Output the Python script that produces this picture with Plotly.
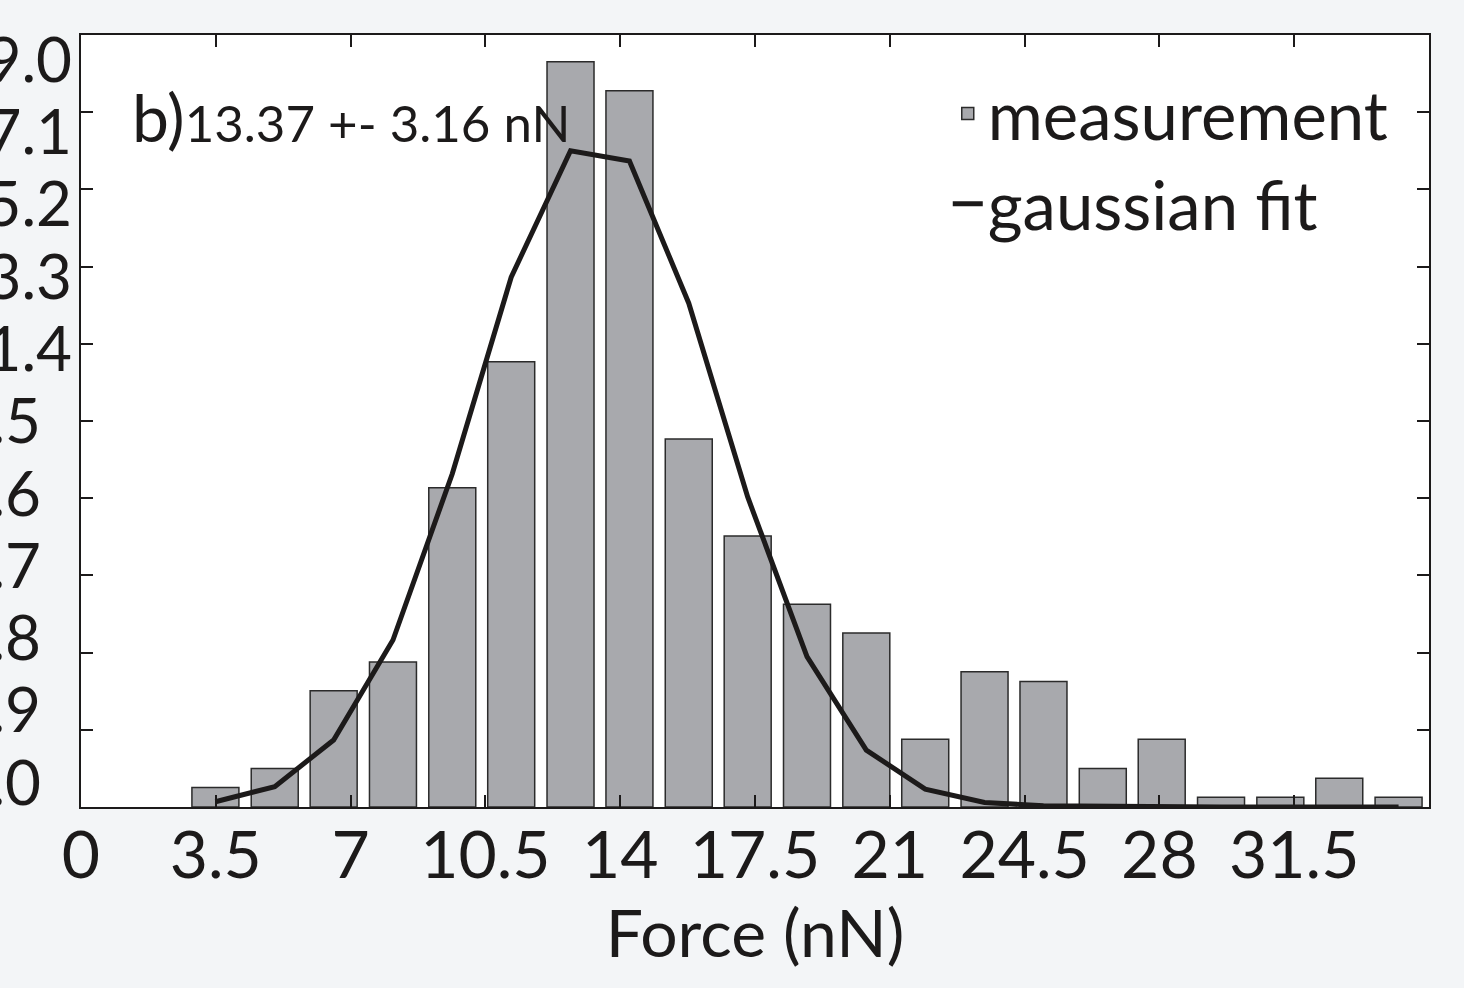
import plotly.graph_objects as go

# ---- data ----
force_centers = [3.49, 5.03, 6.56, 8.10, 9.64, 11.17, 12.71, 14.24, 15.78, 17.31,
                 18.85, 20.39, 21.92, 23.46, 24.99, 26.53, 28.06, 29.60, 31.14, 32.67, 34.21]
measurement = [0.48, 0.95, 2.86, 3.57, 7.86, 10.96, 18.34, 17.63, 9.06, 6.67,
               4.99, 4.28, 1.67, 3.33, 3.09, 0.95, 1.67, 0.24, 0.24, 0.71, 0.24]
gauss_fit = [0.13, 0.50, 1.65, 4.11, 8.20, 13.04, 16.15, 15.90, 12.40, 7.63,
             3.70, 1.40, 0.44, 0.11, 0.03, 0.01, 0.0, 0.0, 0.0, 0.0, 0.0]
x_ticks = [0, 3.5, 7, 10.5, 14, 17.5, 21, 24.5, 28, 31.5]
y_ticks = [0.0, 1.9, 3.8, 5.7, 7.6, 9.5, 11.4, 13.3, 15.2, 17.1, 19.0]
annotation_text = "13.37 +- 3.16 nN"

FONT = "Lato, 'Open Sans', sans-serif"
INK = "#1c1a1a"
EN_SPACE = "\u2002"  # keeps the y labels left-aligned as in the original

def y_label(v):
    s = "%.1f" % v
    return s + EN_SPACE * (4 - len(s))

fig = go.Figure()
fig.add_trace(go.Bar(
    x=force_centers, y=measurement, name="measurement", width=1.22,
    marker=dict(color="#a8a9ad", line=dict(color="#2b2b2b", width=1.5)),
))
fig.add_trace(go.Scatter(
    x=force_centers, y=gauss_fit, name="gaussian fit", mode="lines",
    line=dict(color=INK, width=5),
))
# empty trace so the label axis (y2) is drawn
fig.add_trace(go.Scatter(x=[], y=[], yaxis="y2", showlegend=False, hoverinfo="skip"))

axis_common = dict(
    showline=True, linecolor=INK, linewidth=2, mirror="ticks",
    ticks="inside", ticklen=12, tickwidth=1.5, tickcolor=INK,
    showgrid=False, zeroline=False, automargin=False,
    ticklabeloverflow="allow",
    tickfont=dict(family=FONT, size=66, color=INK),
)

fig.update_xaxes(range=[0, 35], tickvals=x_ticks,
                 ticktext=[("%g" % v) for v in x_ticks],
                 ticklabelstandoff=-10,
                 title=dict(text="Force (nN)", font=dict(family=FONT, size=66, color=INK),
                            standoff=2),
                 **axis_common)
# main y axis: frame and tick marks
fig.update_layout(yaxis=dict(range=[0, 19], tickvals=y_ticks, showticklabels=False, **axis_common))

fig.update_layout(
    # label axis: in the original the tick labels sit on a slightly compressed scale
    yaxis2=dict(overlaying="y", anchor="x", side="left",
                range=[-0.63, 19.66], tickvals=y_ticks,
                ticktext=[y_label(v) for v in y_ticks],
                showline=False, ticks="", showgrid=False, zeroline=False,
                automargin=False, ticklabeloverflow="allow", ticklabelstandoff=8,
                tickfont=dict(family=FONT, size=62, color=INK)),
)

fig.add_annotation(
    xref="paper", yref="paper", x=0.0365, y=0.895, xanchor="left", yanchor="middle",
    text="b)<span style='font-size:51px'>" + annotation_text + "</span>",
    showarrow=False, font=dict(family=FONT, size=66, color=INK),
)

fig.update_layout(
    width=1464, height=988,
    margin=dict(l=81, r=35, t=35, b=181, pad=0),
    paper_bgcolor="#f3f5f7", plot_bgcolor="#ffffff",
    legend=dict(x=0.643, y=0.963, xanchor="left", yanchor="top",
                bgcolor="rgba(0,0,0,0)", borderwidth=0,
                font=dict(family=FONT, size=67, color=INK),
                tracegroupgap=0, itemwidth=30),
    showlegend=True,
)

fig.write_html("out.html")
